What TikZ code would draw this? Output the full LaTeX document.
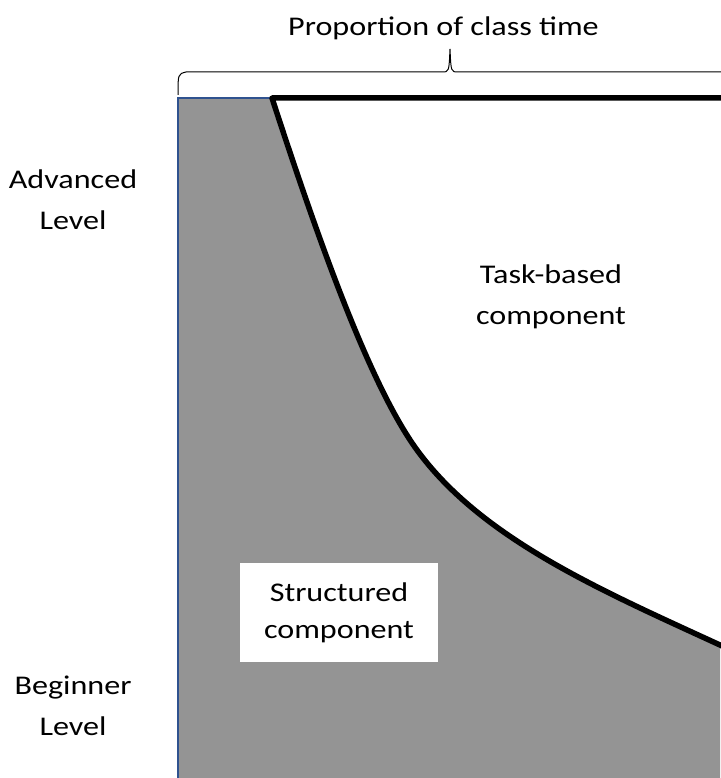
\documentclass[tikz,border=0pt]{standalone}
\usepackage{fontspec}
\setmainfont[FakeStretch=1.19]{Carlito}
\definecolor{edgeblue}{HTML}{2F528F}
\tikzset{
  lbl/.style={align=center, font=\fontsize{27}{41}\selectfont, inner sep=0pt},
  thick line/.style={line width=5.5pt, line join=round, black}
}
\begin{document}
\begin{tikzpicture}[x=1pt,y=-1pt]
\useasboundingbox (0,0) rectangle (720,778);
% key points of the boundary
\coordinate (tl) at (178,98);
\coordinate (bl) at (178,778);
\coordinate (br) at (720,778);
\coordinate (cs) at (272,98);
\coordinate (cm) at (417,450);
\coordinate (ce) at (720,645);
\coordinate (tr) at (722,98);
% structured part
\fill[black!42] (tl)--(cs) .. controls (318.5,240.5) and (369.8,385.2) .. (cm)
.. controls (481.9,539.1) and (602,590.7) .. (ce)--(br)--(bl)--cycle;
\draw[edgeblue, line width=1.5pt] (bl)--(tl)--(cs);
% the dividing curve and top edge
\draw[thick line] (tr)--(cs) .. controls (318.5,240.5) and (369.8,385.2) .. (cm)
.. controls (481.9,539.1) and (602,590.7) .. (ce)--(726,647.8);
% brace on top
\coordinate (bs) at (178,95);
\coordinate (bt) at (450,49);
\coordinate (be) at (722,72);
\draw[line width=1pt] (bs) .. controls (178,74) .. (186,72) -- (442,72)
.. controls (449,72) .. (bt) .. controls (451,72) .. (458,72) -- (be);
\node[lbl] (ptime) at (443.5,28) {Proportion of class time};
\node[lbl] (adv) at (73,200) {Advanced\\Level};
\node[lbl] (beg) at (73,706) {Beginner\\Level};
\node[lbl] (task) at (551,297) {Task-based\\component};
\node[lbl, font=\fontsize{27}{37}\selectfont, fill=white, minimum width=198pt, minimum height=99pt] (struct) at (339,612.5) {Structured\\component};
\end{tikzpicture}
\end{document}
